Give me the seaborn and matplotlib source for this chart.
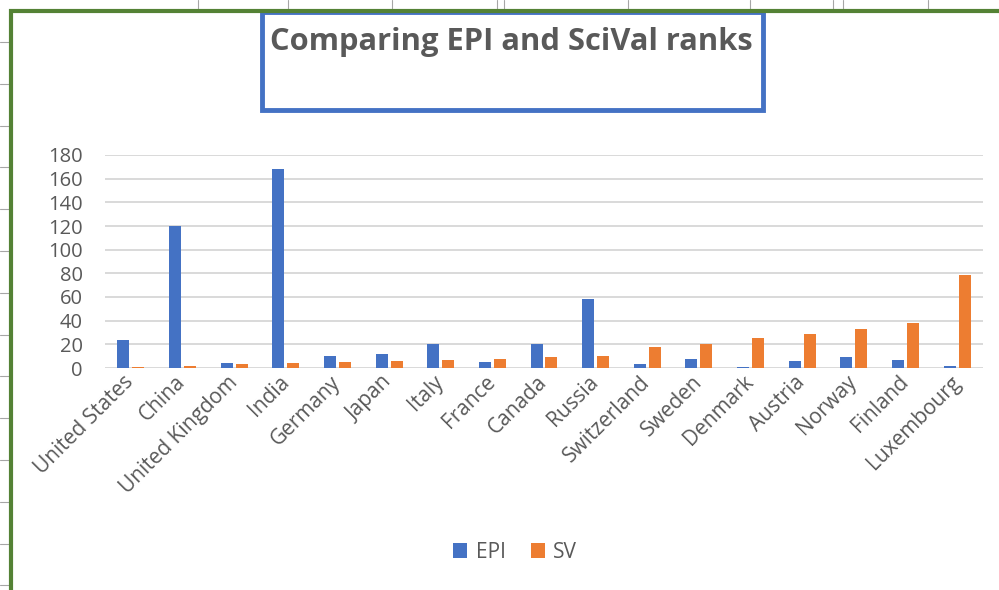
import pandas as pd
import matplotlib.pyplot as plt
import seaborn as sns
from matplotlib.lines import Line2D
from matplotlib.patches import Rectangle

# Chart data
countries = ['United States', 'China', 'United Kingdom', 'India', 'Germany', 'Japan',
             'Italy', 'France', 'Canada', 'Russia', 'Switzerland', 'Sweden',
             'Denmark', 'Austria', 'Norway', 'Finland', 'Luxembourg']
epi = [24, 120, 4, 168, 10, 12, 20, 5, 20, 58, 3, 8, 1, 6, 9, 7, 2]
sv = [1, 2, 3, 4, 5, 6, 7, 8, 9, 10, 18, 20, 25, 29, 33, 38, 79]
series_names = ['EPI', 'SV']
y_ticks = [0, 20, 40, 60, 80, 100, 120, 140, 160, 180]

# Long format for seaborn
df = pd.DataFrame({
    'Country': countries * 2,
    'Series': [series_names[0]] * len(countries) + [series_names[1]] * len(countries),
    'Rank': epi + sv,
})

sns.set_style('white')
plt.rcParams['font.family'] = ['Open Sans', 'DejaVu Sans']

W, H = 999, 590
fig = plt.figure(figsize=(W / 100, H / 100), dpi=100)


def fx(x):
    return x / W


def fy(y):
    return 1 - y / H


ax = fig.add_axes([fx(105), fy(368), fx(983) - fx(105), fy(155) - fy(368)])

sns.barplot(data=df, x='Country', y='Rank', hue='Series',
            palette=['#4472C4', '#ED7D31'], saturation=1, width=0.58, gap=0.2,
            linewidth=0, zorder=3, ax=ax)

handles, labels = ax.get_legend_handles_labels()
ax.get_legend().remove()

ax.set_ylim(0, 180)
ax.set_xlim(-0.5, len(countries) - 0.5)
ax.set_yticks(y_ticks)
ax.yaxis.grid(True, color='#d9d9d9', linewidth=1.4, zorder=0)
ax.set_axisbelow(True)
for side in ['top', 'right', 'left', 'bottom']:
    ax.spines[side].set_visible(False)
ax.set_xlabel('')
ax.set_ylabel('')
ax.tick_params(axis='y', length=0, pad=16, labelsize=14.5, labelcolor='#595959')
ax.tick_params(axis='x', length=0, pad=8, labelsize=15, labelcolor='#595959')
for lbl in ax.get_xticklabels():
    lbl.set_rotation(45)
    lbl.set_ha('right')
    lbl.set_va('center')
    lbl.set_rotation_mode('anchor')

fig.legend(handles, labels, loc='center', bbox_to_anchor=(fx(515), fy(552)),
           ncol=2, frameon=False, fontsize=15, labelcolor='#595959',
           handlelength=0.7, handleheight=0.7, handletextpad=0.4,
           columnspacing=1.2)

# Title with its box
fig.text(fx(511), fy(42), 'Comparing EPI and SciVal ranks', ha='center', va='center',
         fontsize=22.2, fontweight='bold', color='#595959')
fig.add_artist(Rectangle((fx(262), fy(110)), fx(763) - fx(262), fy(12) - fy(110),
                         transform=fig.transFigure, fill=False,
                         edgecolor='#4472C4', linewidth=3.5))

# Spreadsheet cells behind the chart
for x in [198, 288, 392, 497, 504, 628, 750, 833, 843, 928]:
    fig.add_artist(Line2D([fx(x), fx(x)], [fy(0), fy(10)], transform=fig.transFigure,
                          color='#a6a6a6', linewidth=0.8))
y = 42
while y < H:
    fig.add_artist(Line2D([fx(0), fx(9)], [fy(y), fy(y)], transform=fig.transFigure,
                          color='#a6a6a6', linewidth=0.8))
    y += 41.8

# Green chart border
fig.add_artist(Line2D([fx(11), fx(11), fx(W)], [fy(H), fy(11), fy(11)],
                      transform=fig.transFigure, color='#548235', linewidth=3,
                      solid_joinstyle='miter'))

fig.savefig('out.png', dpi=100)
